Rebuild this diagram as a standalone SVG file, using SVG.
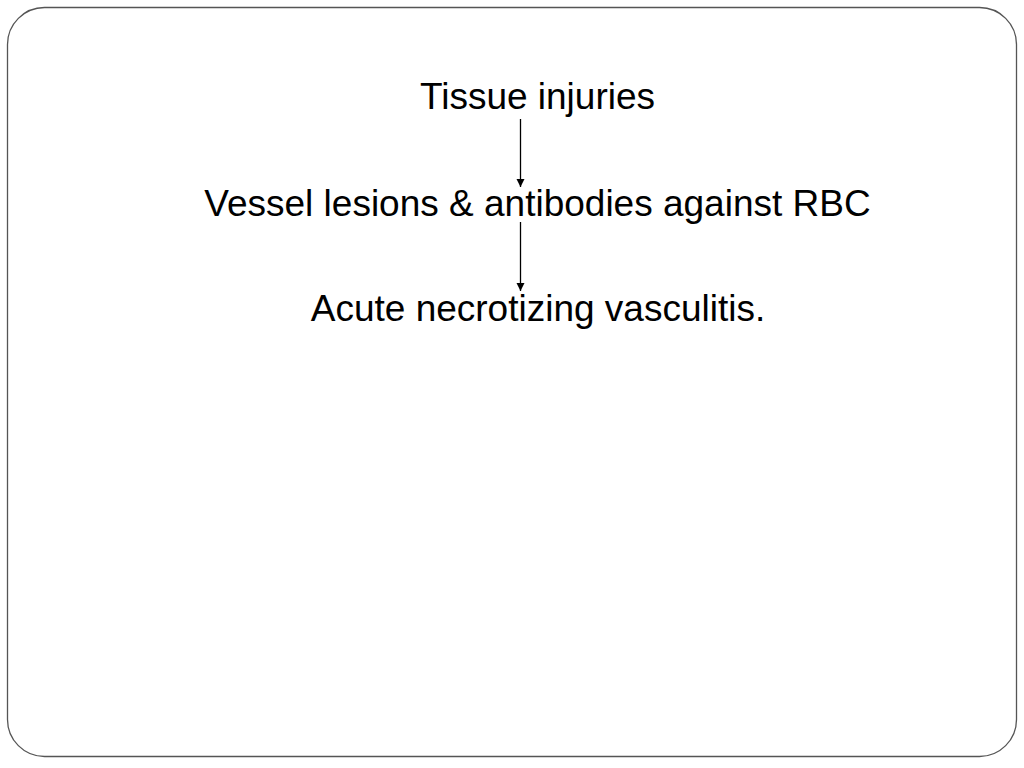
<svg xmlns="http://www.w3.org/2000/svg" width="1024" height="768" viewBox="0 0 1024 768">
<style>
.t{font-family:"Liberation Sans",Arial,sans-serif;font-size:37px;fill:#000;text-anchor:middle}
.c{stroke:#000;stroke-width:1.3;fill:none}
</style>
<defs>
<marker id="ah" viewBox="0 0 10 10" refX="10" refY="5" markerUnits="userSpaceOnUse" markerWidth="8" markerHeight="9" orient="auto">
<path d="M0,0 L10,5 L0,10 Z" fill="#000"/>
</marker>
</defs>
<rect width="1024" height="768" fill="#fff"/>
<rect x="7.5" y="7.5" width="1009" height="749" rx="37" ry="37" fill="#fff" stroke="#555" stroke-width="1.3"/>
<g id="connectors">
<line class="c" x1="520.5" y1="119" x2="520.5" y2="187" marker-end="url(#ah)"/>
<line class="c" x1="520.5" y1="222" x2="520.5" y2="291" marker-end="url(#ah)"/>
</g>
<g id="n1"><text class="t" x="537.5" y="109">Tissue injuries</text></g>
<g id="n2"><text class="t" x="537.5" y="215.5">Vessel lesions &amp; antibodies against RBC</text></g>
<g id="n3"><text class="t" x="538" y="320.5">Acute necrotizing vasculitis.</text></g>
</svg>
